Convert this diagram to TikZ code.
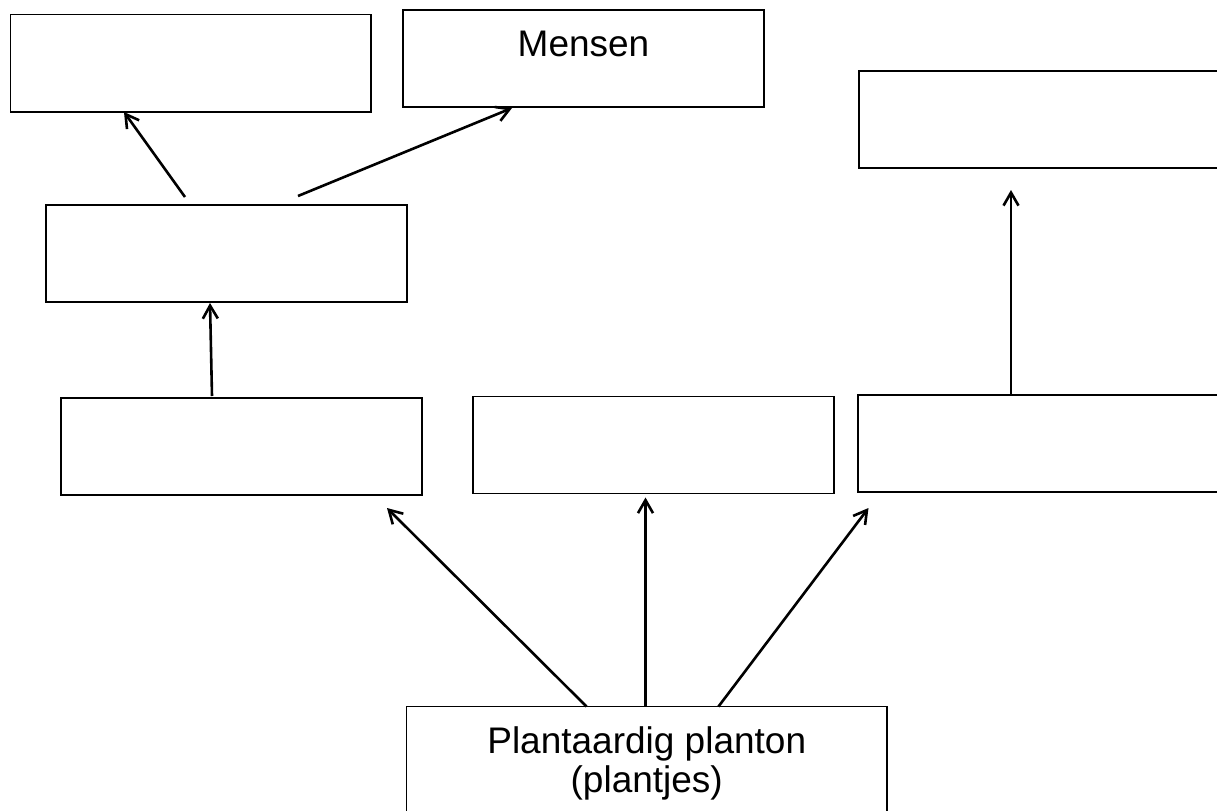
\documentclass[tikz,border=0pt]{standalone}
\usepackage{fontspec}
\setmainfont{Liberation Sans}
\usetikzlibrary{arrows.meta,calc}
\begin{document}
\begin{tikzpicture}[x=0.5pt,y=-0.5pt,
  box/.style={draw,line width=0.85pt,inner sep=0pt,outer sep=0pt},
  arr/.style={-{Straight Barb[length=6.5pt,width=7.5pt]},line width=1.3pt},
  lbl/.style={font=\fontsize{18.5pt}{20.3pt}\selectfont,inner sep=0pt}]
\clip (0,0) rectangle (1217,810);
\fill[white] (0,0) rectangle (1217,810);
\node[box,minimum width=180.25pt,minimum height=48.75pt] (b1) at (190.75,63.25) {};
\node[box,minimum width=180.5pt,minimum height=48.5pt] (mensen) at (583.5,58.5) {};
\node[box,minimum width=190.5pt,minimum height=48.5pt] (tr) at (1049.5,119.5) {};
\node[box,minimum width=180.5pt,minimum height=48.5pt] (ml) at (226.5,253.5) {};
\node[box,minimum width=180.5pt,minimum height=48.5pt] (r3l) at (241.5,446.5) {};
\node[box,minimum width=180.5pt,minimum height=48.5pt] (r3m) at (653.5,445) {};
\node[box,minimum width=191pt,minimum height=48.5pt] (r3r) at (1049,443.5) {};
\node[box,minimum width=240.25pt,minimum height=66.75pt] (plant) at (646.75,773.25) {};
\node[lbl,anchor=base] (mensentxt) at (583.5,56.7) {Mensen};
\node[lbl,anchor=base] (planttxta) at (646.75,753) {Plantaardig planton};
\node[lbl,anchor=base] (planttxtb) at (646.75,792.5) {(plantjes)};
\draw[arr] ($(ml.north west)+(139,-8)$) -- ($(b1.south west)+(113.5,0)$);
\draw[arr] ($(ml.north west)+(252,-9)$) -- ($(mensen.south west)+(109,1)$);
\draw[arr] ($(r3l.north west)+(151,-2)$) -- ($(ml.south west)+(164,1)$);
\draw[arr] ($(r3r.north west)+(153,0)$) -- ($(tr.south west)+(152,22)$);
\draw[arr] ($(plant.north west)+(180,0)$) -- ($(r3l.south east)+(-35,13)$);
\draw[arr] ($(plant.north west)+(239,0)$) -- ($(r3m.south west)+(172.5,4)$);
\draw[arr] ($(plant.north west)+(312,0)$) -- ($(r3r.south west)+(10.5,16)$);
\end{tikzpicture}
\end{document}
